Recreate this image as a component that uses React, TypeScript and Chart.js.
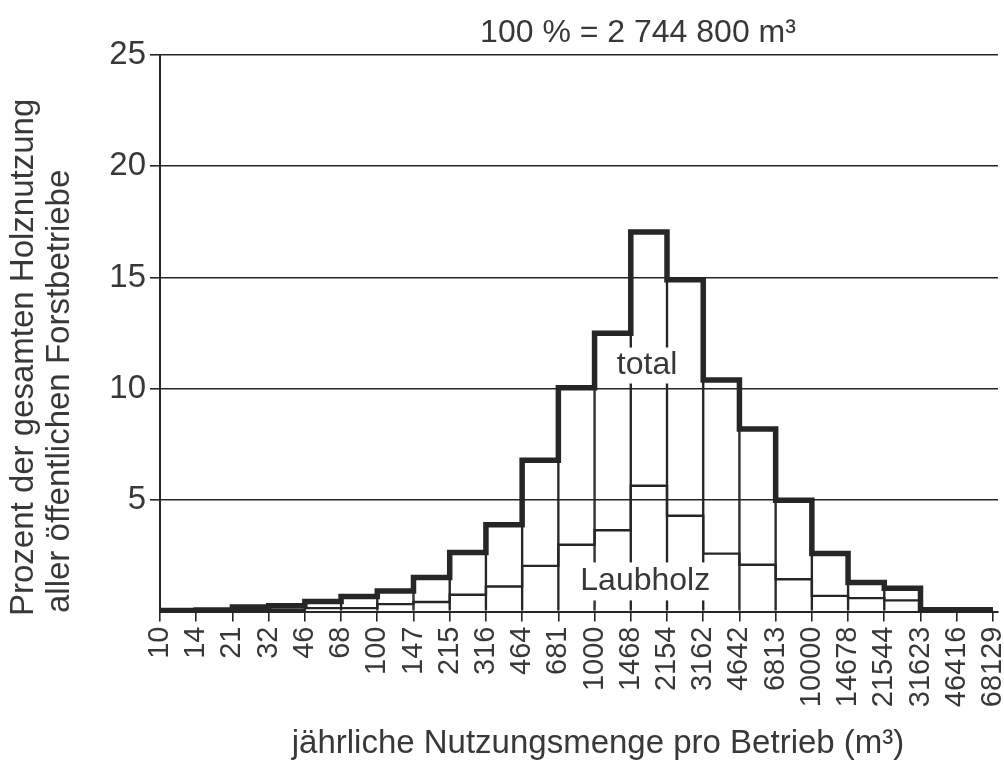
import React, { useEffect, useRef } from 'react';
import { Chart, registerables } from 'chart.js';

Chart.register(...registerables);

// Bin edges (m³ per year and enterprise), log-spaced classes
const edgeLabels = [
  '10', '14', '21', '32', '46', '68', '100', '147', '215', '316', '464', '681',
  '1000', '1468', '2154', '3162', '4642', '6813', '10000', '14678', '21544',
  '31623', '46416', '68129',
];

// Percent of total timber use per class (23 classes between the edges)
const totalPct = [
  0.05, 0.07, 0.2, 0.26, 0.45, 0.67, 0.92, 1.53, 2.65, 3.9, 6.8, 10.05,
  12.5, 17.05, 14.9, 10.4, 8.2, 5.0, 2.6, 1.3, 1.05, 0.08, 0.08,
];

const laubholzPct = [
  0.03, 0.04, 0.06, 0.08, 0.15, 0.15, 0.33, 0.43, 0.75, 1.12, 2.05, 3.0,
  3.65, 5.65, 4.3, 2.6, 2.1, 1.45, 0.7, 0.6, 0.5, 0.05, 0.05,
];

const yTickValues = [0, 5, 10, 15, 20, 25];

const titleText = '100 % = 2 744 800 m³';
const yTitleLines = ['Prozent der gesamten Holznutzung', 'aller öffentlichen Forstbetriebe'];
const xTitleText = 'jährliche Nutzungsmenge pro Betrieb (m³)';
const totalLabel = 'total';
const laubLabel = 'Laubholz';

const INK = '#262626';
const TEXT = '#383838';
const FONT = '"Liberation Sans", Arial, Helvetica, sans-serif';

export default function App() {
  const ref = useRef<HTMLCanvasElement>(null);

  useEffect(() => {
    const canvas = ref.current;
    if (!canvas) return;
    const n = totalPct.length;
    const stepPts = (vals: number[]) => [
      ...vals.map((v, i) => ({ x: i, y: v })),
      { x: n, y: vals[n - 1] },
    ];

    const textPlugin = {
      id: 'textPlugin',
      afterDatasetsDraw(chart: any) {
        const { ctx, scales } = chart;
        const x = scales.x;
        const y = scales.y;
        ctx.save();
        ctx.font = `32px ${FONT}`;
        ctx.textAlign = 'center';
        ctx.textBaseline = 'middle';
        const boxed = (text: string, cx: number, cy: number, w: number, h: number) => {
          ctx.fillStyle = '#ffffff';
          ctx.fillRect(cx - w / 2, cy - h / 2, w, h);
          ctx.fillStyle = TEXT;
          ctx.fillText(text, cx, cy);
        };
        boxed(totalLabel, x.getPixelForValue(13.45), y.getPixelForValue(11.05), 78, 36);
        boxed(laubLabel, x.getPixelForValue(13.4), y.getPixelForValue(1.35), 136, 38);
        ctx.restore();
      },
      afterDraw(chart: any) {
        const { ctx } = chart;
        ctx.save();
        ctx.fillStyle = TEXT;
        ctx.textBaseline = 'alphabetic';
        // top title
        ctx.font = `32px ${FONT}`;
        ctx.textAlign = 'center';
        ctx.fillText(titleText, 638, 42);
        // x title
        ctx.font = `33px ${FONT}`;
        ctx.fillText(xTitleText, 598, 753);
        // y title (rotated, left aligned at bottom)
        ctx.textAlign = 'left';
        const starts = [
          [33, 616],
          [69, 613],
        ];
        yTitleLines.forEach((line, i) => {
          ctx.save();
          ctx.translate(starts[i][0], starts[i][1]);
          ctx.rotate(-Math.PI / 2);
          ctx.fillText(line, 0, 0);
          ctx.restore();
        });
        ctx.restore();
      },
    };

    const chart = new Chart(canvas, {
      type: 'line',
      data: {
        datasets: [
          {
            type: 'line',
            label: 'total',
            data: stepPts(totalPct),
            stepped: 'before',
            borderColor: INK,
            borderWidth: 5.5,
            pointRadius: 0,
            fill: false,
            borderJoinStyle: 'miter',
            borderCapStyle: 'butt',
            order: 0,
          },
          {
            type: 'line',
            label: 'Laubholz',
            data: stepPts(laubholzPct),
            stepped: 'before',
            borderColor: INK,
            borderWidth: 2.4,
            pointRadius: 0,
            fill: false,
            borderJoinStyle: 'miter',
            order: 1,
          },
          {
            type: 'bar',
            label: 'Klassen',
            data: totalPct.map((v, i) => ({ x: i + 0.5, y: v })),
            backgroundColor: 'rgba(0,0,0,0)',
            borderColor: INK,
            borderWidth: { left: 0.85, right: 0.85, top: 0, bottom: 0 },
            borderSkipped: false,
            barPercentage: 1,
            categoryPercentage: 1,
            grouped: false,
            order: 2,
          },
        ] as any,
      },
      options: {
        responsive: false,
        animation: false,
        events: [],
        layout: { padding: { left: 0, right: 6, top: 55, bottom: 0 } },
        plugins: { legend: { display: false }, tooltip: { enabled: false }, title: { display: false } },
        scales: {
          x: {
            type: 'linear',
            min: 0,
            max: n + 0.14,
            offset: false,
            afterBuildTicks: (s: any) => {
              s.ticks = edgeLabels.map((_, i) => ({ value: i }));
            },
            afterFit: (s: any) => {
              s.height = 153.5;
              s.paddingLeft = 0;
              s.paddingRight = 0;
            },
            ticks: {
              autoSkip: false,
              minRotation: 90,
              maxRotation: 90,
              padding: 5,
              color: TEXT,
              font: { family: FONT, size: 29 },
              callback: (v: any) => edgeLabels[v] ?? '',
            },
            grid: {
              drawOnChartArea: false,
              drawTicks: true,
              tickLength: 10,
              color: INK,
              lineWidth: 1.6,
              offset: false,
            },
            border: { display: true, color: INK, width: 2 },
          },
          y: {
            min: 0,
            max: 25,
            afterBuildTicks: (s: any) => {
              s.ticks = yTickValues.map((v) => ({ value: v }));
            },
            afterFit: (s: any) => {
              s.width = 160;
              s.paddingTop = 0;
              s.paddingBottom = 0;
            },
            ticks: {
              padding: 4,
              color: TEXT,
              font: { family: FONT, size: 33 },
              callback: (v: any) => (v === 0 ? '' : String(v)),
            },
            grid: {
              color: INK,
              lineWidth: 1.6,
              tickLength: 10,
              tickColor: (c: any) => (c.tick && c.tick.value === 0 ? 'rgba(0,0,0,0)' : INK),
            },
            border: { display: true, color: INK, width: 2 },
          },
        },
      } as any,
      plugins: [textPlugin],
    });

    return () => chart.destroy();
  }, []);

  return (
    <div style={{ position: 'absolute', left: 0, top: 0, width: 1004, height: 765, background: '#fff' }}>
      <canvas ref={ref} width={1004} height={765} />
    </div>
  );
}
